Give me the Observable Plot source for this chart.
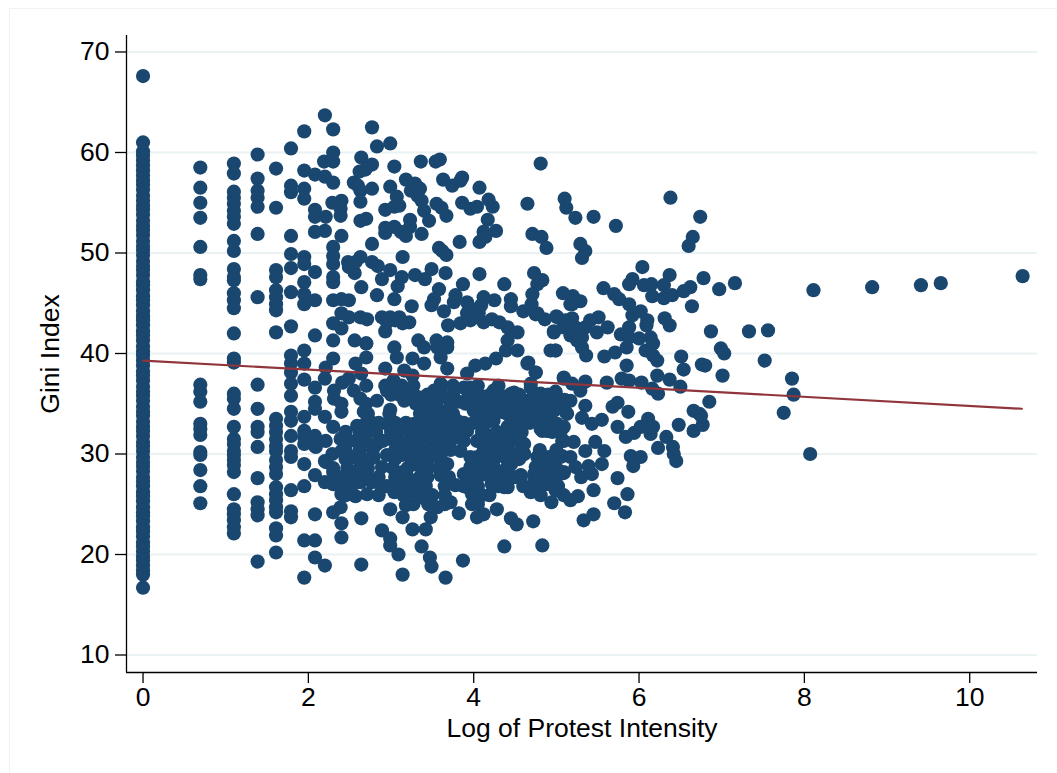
<!DOCTYPE html>
<html><head><meta charset="utf-8">
<script src="https://cdn.jsdelivr.net/npm/d3@7"></script>
<script src="https://cdn.jsdelivr.net/npm/@observablehq/plot@0.6"></script>
<style>
html,body{margin:0;padding:0;background:#fff;overflow:hidden}
#frame{position:absolute;left:9px;top:8px;right:0;bottom:0;border-left:1px solid #eef3f5;border-top:1px solid #eef3f5}
#chart{position:absolute;left:0;top:0}
svg{display:block}
</style></head><body>
<div id="frame"></div><div id="chart"></div>
<script>
const yTicks=[10,20,30,40,50,60,70];
const xTicks=[0,2,4,6,8,10];
const lineX=[0,10.63];
const lineY=[39.3,34.5];
const ginisAt0=[16.7,18.0,18.4,18.9,19.4,19.8,20.3,20.8,21.2,21.8,22.3,22.7,23.3,23.8,24.2,24.7,25.3,25.8,26.2,26.8,27.3,27.7,28.3,28.8,29.2,29.7,30.3,30.8,31.2,31.8,32.3,32.7,33.2,33.8,34.2,34.7,35.3,35.8,36.2,36.7,37.3,37.8,38.2,38.8,39.3,39.8,40.2,40.7,41.3,41.8,42.2,42.8,43.3,43.7,44.2,44.8,45.3,45.7,46.3,46.8,47.2,47.8,48.3,48.7,49.2,49.8,50.3,50.7,51.2,51.8,52.3,52.7,53.2,53.8,54.3,54.7,55.2,55.7,56.3,56.8,57.2,57.7,58.2,58.7,59.2,59.7,60.1,61.0,67.6];
const ginisAt069=[58.5,56.5,55,53.5,50.6,47.8,47.4,36.9,36.2,35.2,33,32.5,31.9,30.2,29.9,28.4,26.8,25.1];
const ginisAt110=[58.9,57.9,56.1,55.5,54.9,54.2,53.6,52.9,51.2,50.2,48.4,47.6,47.3,46,45.3,44.5,42,39.5,39.1,36,35.5,34.5,32.7,31.5,31,30.3,29.9,29.4,28.9,28.2,26,24.5,24,23.4,22.7,22.1];
const ginisAt139=[59.8,57.4,56.2,55.5,54.6,51.9,45.6,36.9,34.5,32.7,32.2,30.7,27.6,25.2,24.5,23.9,19.3];
const ginisAt161=[58.4,54.5,48.3,47.6,46.3,45.6,44.9,44.3,42.1,33.5,32.8,32.2,31.5,30.8,30.3,29.4,28.7,28,26.7,26,25.4,24.7,24.2,22.6,21.9,20.2];
const upperPairs=[[2.20,63.7],[1.95,62.1],[2.30,62.3],[2.77,62.5],[1.79,60.4],[2.83,60.6],[2.99,60.9],[2.30,60],[2.19,59.1],[2.30,59.1],[2.64,59.5],[1.95,58.2],[2.08,57.8],[2.20,57.6],[2.30,57],[3.04,58.6],[2.77,58.8],[2.69,58.3],[2.62,58.1],[3.36,59.1],[3.54,59.1],[3.59,59.3],[4.81,58.9],[2.55,57],[2.60,56.7],[2.63,56.2],[2.63,55.1],[2.77,56.4],[3.18,57.3],[2.99,56.6],[3.29,56.9],[3.35,56.4],[3.24,56.2],[3.63,57.3],[3.74,56.7],[3.86,57.5],[3.84,57.2],[4.07,56.5],[1.79,56.7],[1.79,56.05],[1.95,56.4],[1.95,55.4],[3.07,55.6],[3.04,54.6],[3.10,54.7],[2.93,54.3],[3.32,55.7],[3.37,55.2],[3.40,54.2],[3.46,53.2],[3.55,54.9],[3.61,54.5],[3.67,53.7],[3.86,55],[3.96,54.4],[4.04,54.6],[4.18,55.3],[4.23,54.6],[4.17,53.3],[2.29,55],[2.40,55.2],[2.39,54.4],[2.39,53.7],[2.08,54.3],[2.08,53.6],[2.21,53.6],[2.20,52.2],[2.08,52.1],[2.63,53.2],[2.70,53.4],[2.93,52.5],[2.93,52],[3.04,52.6],[3.23,53.3],[3.23,52.6],[3.12,52.1],[3.18,51.7],[3.37,51.9],[4.27,52.2],[4.12,52.1],[4.14,51.6],[4.07,51.1],[1.79,51.7],[2.40,51.7],[2.30,50.6],[2.77,50.9],[3.83,51.1],[4.65,54.9],[5.10,55.4],[5.12,54.5],[4.71,51.9],[4.82,51.6],[4.88,50.5],[1.79,49.9],[1.95,49.6],[1.95,48.9],[1.79,48.5],[2.08,48.1],[2.30,49.7],[2.30,48.9],[2.30,47.6],[2.30,47.1],[2.48,49.1],[2.49,48.6],[2.56,48],[2.63,49.6],[2.57,49.1],[2.77,49.1],[2.84,48.7],[2.89,47.4],[2.99,48.3],[3.14,49.6],[3.13,47.6],[3.08,46.7],[3.29,47.8],[3.41,47.4],[3.49,48.4],[3.66,48],[3.58,50.5],[3.62,50.2],[3.67,49.8],[4.07,47.9],[4.37,46.9],[3.87,46.9],[3.58,46.4],[3.52,45.4],[3.49,44.8],[3.64,44.2],[3.78,45.8],[3.76,45.1],[3.92,45.1],[3.92,44],[4.12,45.6],[4.09,44.8],[4.06,44],[4.25,45.3],[4.45,45.4],[4.45,44.7],[4.73,48],[4.83,47.3],[4.77,46.9],[4.71,45.9],[4.70,44.9],[4.60,44.2],[4.77,44],[4.86,43.4],[5.08,46],[5.17,44.9],[5,43.7],[5.11,43.3],[4.97,42.1],[5.09,42.6],[1.95,47.1],[1.95,45.9],[1.95,44.9],[2.08,45.3],[1.79,46.1],[2.30,45.3],[2.40,45.4],[2.49,45.3],[2.64,46.6],[2.83,45.8],[3.04,45.4],[3.25,44.7],[2.40,44],[2.49,43.6],[2.30,43],[2.40,42.5],[2.63,43.6],[2.71,43.4],[2.89,43.6],[2.99,43.6],[3.10,43.6],[3.14,43],[3.22,43.1],[2.93,42.2],[3.69,42.8],[3.84,43],[4.12,43.1],[4.22,43.4],[4.31,43.1],[4.41,42.6],[4.53,42.1],[1.79,42.7],[2.08,41.8],[2.30,41.3],[2.56,41.3],[2.70,41],[3.33,41.3],[3.55,41.3],[3.68,41.1],[4.41,41.3],[3.05,43.3],[2.95,43.1],[3.96,43.3],[4.04,43.6],[3.96,44.5]];
const rightPairs=[[5.23,53.5],[5.45,53.6],[5.72,52.7],[6.38,55.5],[6.74,53.6],[6.65,51.6],[6.60,50.7],[5.29,50.9],[5.35,50.2],[5.31,49.5],[6.04,48.6],[5.92,47.4],[5.88,46.9],[6.06,46.8],[6.15,46.9],[6.37,47.8],[6.30,46.8],[6.16,45.7],[6.30,45.5],[6.40,45.8],[6.54,46.2],[6.62,46.6],[6.78,47.5],[6.97,46.4],[7.16,47],[6.64,44.7],[5.57,46.5],[5.70,45.9],[5.76,45.4],[5.88,44.9],[4.75,43.9],[5.20,45.7],[5.29,45.2],[5.19,44.9],[5.01,43.6],[5.19,43.5],[5.09,43.1],[4.97,42.2],[5.23,42.6],[5.17,41.8],[5.25,41.3],[5.31,40.6],[5.36,39.8],[5.51,43.6],[5.41,43.3],[5.35,42.6],[5.62,42.6],[5.49,42.1],[5.31,41.6],[4.99,40.3],[4.93,40.3],[5.92,43.8],[6.02,44.2],[6.10,43.3],[6.09,42.8],[6.31,43.5],[6.37,42.8],[5.88,42.6],[5.78,41.9],[5.88,41.6],[6,41.5],[6.14,41.6],[5.85,40.6],[6.08,40.3],[6.17,41],[6.17,39.8],[6.22,39.3],[5.71,40.1],[5.58,39.7],[6.51,39.7],[6.54,38.4],[5.85,38.8],[6.87,42.2],[7.33,42.2],[7.56,42.3],[6.99,40.5],[7.03,40],[6.76,38.9],[6.80,38.8],[7.01,37.8],[7.52,39.3],[6.22,37.8],[6.37,37.4],[6.50,36.7],[6.23,36],[6.16,36.5],[6.03,37.1],[5.88,37.3],[5.79,37.5],[5.61,37.1],[5.35,37.2],[5.09,37.6],[5.19,37],[5.29,36.3],[5.35,34.8],[4.66,39.1],[4.75,38.1],[4.69,36.6],[4.79,35.6],[4.99,36.2],[5.10,35.4],[4.93,34.3],[5.11,34.2],[5.09,32.7],[5.31,33.6],[5.43,33],[5.55,33.4],[5.68,34.7],[5.74,35.1],[5.87,34.2],[5.74,32.7],[6.11,33.5],[5.94,32.1],[5.84,31.7],[6.02,32.7],[6.14,32],[6.17,32.7],[6.33,31.7],[6.41,30.7],[6.42,30],[6.45,29.3],[6.23,30.6],[6.48,32.9],[6.66,32.3],[6.77,32.9],[6.73,34],[6.66,34.3],[6.85,35.2],[6.75,33.8],[5.90,29.8],[6.02,29.7],[5.93,28.8],[5.74,27.6],[5.86,26],[5.70,25.1],[5.83,24.2],[5.45,26.4],[5.45,24],[5.33,23.4],[8.11,46.3],[8.82,46.6],[9.41,46.8],[9.65,47],[10.64,47.7],[7.85,37.5],[7.87,35.9],[7.75,34.1],[8.07,30]];
const lowerPairs=[[4.72,23.3],[4.45,23.6],[4.52,23],[5.55,29],[5.58,30.3],[5.47,31.2],[5.35,30.3],[5.21,31.2],[5.07,31.3],[4.83,32.3],[4.91,32.3],[5.39,28.8],[5.43,28],[5.30,27.7],[5.23,28.7],[5.17,29.7],[5.07,29.8],[4.91,29.7],[4.77,29.7],[4.75,28.7],[4.89,28.5],[5.09,28.1],[4.93,27.2],[4.83,26.9],[4.73,27.2],[4.69,26.2],[4.81,25.9],[4.94,25.2],[5.09,25.9],[5.17,25.4],[5.26,25.8],[4.99,26.4],[4.57,27.9],[4.45,29],[4.41,26.7],[4.61,30],[4.49,31.5],[4.41,32.7],[4.49,34],[4.65,33.7],[4.57,35.3],[4.45,36],[4.77,34.7],[4.85,34.3],
[1.79,39.8],[1.95,40.3],[1.79,39],[1.95,39],[1.79,38.1],[1.95,37.4],[1.79,37],[1.79,35.8],[2.08,36.6],[2.08,35.2],[2.08,34.5],[1.95,33.7],[1.79,34.2],[1.79,33.3],[2.20,33.7],[1.79,31.8],[1.95,32.3],[1.79,30.3],[1.79,29.7],[1.95,31.7],[1.95,31],[2.08,31.8],[2.08,30.8],[1.95,29],[2.08,27.9],[2.20,29.3],[2.20,27.2],[1.95,26.8],[1.79,26.4],[1.79,23.7],[1.79,24.3],[2.08,24],[1.95,21.4],[2.08,21.4],[2.08,19.7],[2.20,18.9],[1.95,17.7],[2.30,39.5],[2.21,38.6],[2.20,37.5],[2.31,36.3],[2.31,35.5],[2.41,37.1],[2.49,37.5],[2.40,35],[2.40,34.2],[2.30,32.7],[2.39,31.5],[2.21,31.3],[2.09,30.7],[2.29,30],[2.40,30.3],[2.21,29.2],[2.30,28.2],[2.30,27],[2.40,26],[2.39,24.7],[2.30,24.2],[2.40,23.1],[2.40,21.7],[2.64,23.6],[2.64,19],[2.57,25.8],[2.71,26],[2.57,39],[2.70,39.6],[2.70,41],[2.64,38],[2.55,36.3],[2.70,36.8],[2.63,35.5],[2.67,34.2],[2.59,32.8],[2.75,33.2],[2.57,31.3],[2.71,32.3],[2.55,29.7],[2.69,29.4],[2.60,28.4],[2.49,27.9],[2.63,27.2],[2.77,27.2],[2.89,26.7],[3.04,26.2],[2.83,35.3],[2.99,34.4],[2.93,38.5],[3.04,40.6],[3.07,39.6],[3.26,39.5],[3.40,39],[3.16,38.3],[3.26,37.8],[3.03,37.3],[2.95,36.3],[3.08,36.5],[3.16,35.3],[3.20,36.3],[2.95,33],[3.10,32.3],[2.99,31.5],[2.83,31],[2.89,28.7],[2.79,29.7],[2.95,29.9],[3.14,28.2],[3.14,29.9],[3.20,32.3],[3.32,31],[3.28,33],[3.36,30],[3.48,31.3],[3.32,28.9],[3.22,26.7],[3.32,27.4],[2.99,24.5],[3.14,23.7],[3.18,24.9],[3.27,25],[3.36,25.7],[3.50,25.9],[3.56,24.7],[3.48,23.7],[3.42,22.5],[3.26,22.5],[2.89,22.4],[2.99,21.6],[2.99,20.9],[3.09,20],[3.37,20.8],[3.47,19.7],[3.49,18.8],[3.14,18],[3.66,17.7],[3.87,19.4],[4.37,20.8],[4.83,20.9],[3.72,25.2],[3.82,24.1],[3.78,26.9],[3.60,27.9],[3.68,29],[3.44,27.7],[4.04,23.7],[4.12,24],[4.28,24.5],[3.98,25],[3.98,26],[4.19,25.9],[4.37,26.7],[4.22,27],[3.96,27.4],[3.96,28.7],[4.12,28],[4.33,28],[4.45,29],[4.17,29.4],[3.96,29.7],[4.33,30],[4.53,30],[4.61,30],[4.20,31],[4.04,31.3],[3.92,32.3],[3.80,31.7],[3.68,31],[3.60,29.9],[3.72,32.3],[3.56,32.7],[3.64,33.7],[3.80,33.3],[4.12,33],[4.20,31.8],[4.37,31.3],[4.49,32.7],[4.61,31],[4.81,32.5],[4.89,32.3],[5.09,31.3],[5.13,34],[5.01,33],[4.97,34.3],[4.65,35.3],[4.49,36.1],[4.24,36.3],[4.12,35.7],[4,34.3],[4.16,34.7],[4.33,34.2],[4.45,34.7],[4.57,33.7],[4.37,35.7],[3.96,36.6],[3.88,36.6],[3.82,35.2],[3.68,35.6],[3.52,36.3],[3.36,35.6],[3.48,34.7],[3.68,34.3],[3.60,37],[3.68,38.5],[3.60,39.6],[3.68,40.6],[3.56,40.6],[3.40,40.6],[3.92,38],[4.02,38.8],[4.14,39],[4.27,39.5],[4.39,40.3],[4.53,40.3],[4.65,39],[4.75,38.1],[4.69,37],[4.99,40.3],[5.09,37.5],[4.99,36.1],[5.17,35.3],[4.81,36],[4.93,29.7],[5.05,29.7],[4.73,28],[4.91,27],[5.09,28.2],[4.57,27.7],[3.36,31.7],[3.16,31],[3.44,33.3],[4.08,33.3],[4.24,33.3],[4.45,33],[3.64,32],[3.84,30.3],[4.04,29.7],[3.88,28],[3.92,26.7]];
const densePairs=[[2.93,36.8],[3,36.8],[3.13,36.8],[3.27,36.8],[3.62,36.8],[3.75,36.8],[4.05,36.8],[4.3,36.8],[3,35.9],[3.1,35.9],[3.28,35.9],[3.44,35.9],[3.58,35.9],[3.75,35.9],[3.94,35.9],[4.05,35.9],[4.2,35.9],[4.3,35.9],[4.55,35.9],[4.73,35.9],[4.9,35.9],[2.7,35],[3.3,35],[3.4,35],[3.55,35],[3.72,35],[3.9,35],[4.03,35],[4.25,35],[4.4,35],[4.55,35],[4.7,35],[4.85,35],[5,35],[2.72,34],[2.98,34],[3.35,34],[3.5,34],[3.6,34],[3.75,34],[4.05,34],[4.2,34],[4.4,34],[4.6,34],[4.7,34],[4.85,34],[2.7,33.1],[2.85,33.1],[3.05,33.1],[3.18,33.1],[3.35,33.1],[3.5,33.1],[3.7,33.1],[3.88,33.1],[4,33.1],[4.15,33.1],[4.55,33.1],[4.68,33.1],[4.8,33.1],[4.93,33.1],[2.45,32.2],[2.62,32.2],[2.82,32.2],[3,32.2],[3.25,32.2],[3.37,32.2],[3.5,32.2],[3.6,32.2],[3.85,32.2],[4.1,32.2],[4.28,32.2],[4.4,32.2],[4.58,32.2],[4.95,32.2],[5.05,32.2],[2.47,31.3],[2.7,31.3],[2.9,31.3],[3.08,31.3],[3.25,31.3],[3.58,31.3],[3.72,31.3],[3.88,31.3],[4.1,31.3],[4.28,31.3],[4.45,31.3],[4.55,31.3],[2.45,30.4],[2.62,30.4],[2.78,30.4],[3.05,30.4],[3.22,30.4],[3.45,30.4],[3.6,30.4],[3.72,30.4],[4.12,30.4],[4.25,30.4],[4.42,30.4],[4.58,30.4],[4.8,30.4],[5,30.4],[2.45,29.5],[2.6,29.5],[2.75,29.5],[3.05,29.5],[3.25,29.5],[3.45,29.5],[3.6,29.5],[4,29.5],[4.1,29.5],[4.25,29.5],[4.4,29.5],[4.55,29.5],[4.85,29.5],[2.3,28.6],[2.47,28.6],[2.72,28.6],[3.02,28.6],[3.2,28.6],[3.45,28.6],[3.58,28.6],[3.98,28.6],[4.1,28.6],[4.25,28.6],[4.4,28.6],[4.85,28.6],[5,28.6],[2.4,27.7],[2.55,27.7],[2.72,27.7],[2.85,27.7],[3.05,27.7],[3.2,27.7],[3.35,27.7],[3.7,27.7],[3.95,27.7],[4.05,27.7],[4.2,27.7],[4.4,27.7],[4.5,27.7],[4.85,27.7],[5,27.7],[2.38,26.8],[2.52,26.8],[2.95,26.8],[3.1,26.8],[3.3,26.8],[3.42,26.8],[3.65,26.8],[3.88,26.8],[4.05,26.8],[4.3,26.8],[4.6,26.8],[4.8,26.8],[5.02,26.8],[2.45,25.9],[2.85,25.9],[3.15,25.9],[3.3,25.9],[3.42,25.9],[3.65,25.9],[4,25.9],[4.1,25.9],[3.45,25],[3.65,25],[4.05,25]];
const lowColumns=[[0,ginisAt0],[0.693,ginisAt069],[1.099,ginisAt110],[1.386,ginisAt139],[1.609,ginisAt161]];
const points=[...lowColumns.flatMap(([x,ys])=>ys.map(y=>[x,y])),...upperPairs,...rightPairs,...lowerPairs,...densePairs];
const xMin=-0.2,xMax=10.82,yMin=8.26,yMax=71.64;
const fam='"Liberation Sans",Arial,sans-serif';
const chart=Plot.plot({
  width:1057,height:773,marginLeft:126,marginRight:20,marginTop:35,marginBottom:101,
  style:{background:"transparent",fontFamily:fam,color:"#000"},
  x:{domain:[xMin,xMax],label:null},
  y:{domain:[yMin,yMax],label:null},
  marks:[
    Plot.ruleY(yTicks,{stroke:"#eaf2f3",strokeWidth:2}),
    Plot.dot(points,{x:d=>d[0],y:d=>d[1],r:7.1,fill:"#1a476f",stroke:"none"}),
    Plot.line(lineX.map((x,i)=>[x,lineY[i]]),{x:d=>d[0],y:d=>d[1],stroke:"#90353b",strokeWidth:2.2}),
    Plot.ruleX([xMin],{stroke:"#000",strokeWidth:1.3}),
    Plot.ruleY([yMin],{stroke:"#000",strokeWidth:1.3}),
    Plot.axisY({ticks:yTicks,tickSize:11,tickPadding:6,fontSize:26.5,stroke:"#000",strokeWidth:1.3,fill:"#000",label:"Gini Index",labelAnchor:"center",labelArrow:"none",labelOffset:86,tickFormat:d=>String(d)}),
    Plot.axisX({ticks:xTicks,tickSize:11,tickPadding:4,fontSize:26.5,stroke:"#000",strokeWidth:1.3,fill:"#000",label:"Log of Protest Intensity",labelAnchor:"center",labelArrow:"none",labelOffset:64,tickFormat:d=>String(d)})
  ]
});
document.getElementById("chart").appendChild(chart);
</script>
</body></html>
